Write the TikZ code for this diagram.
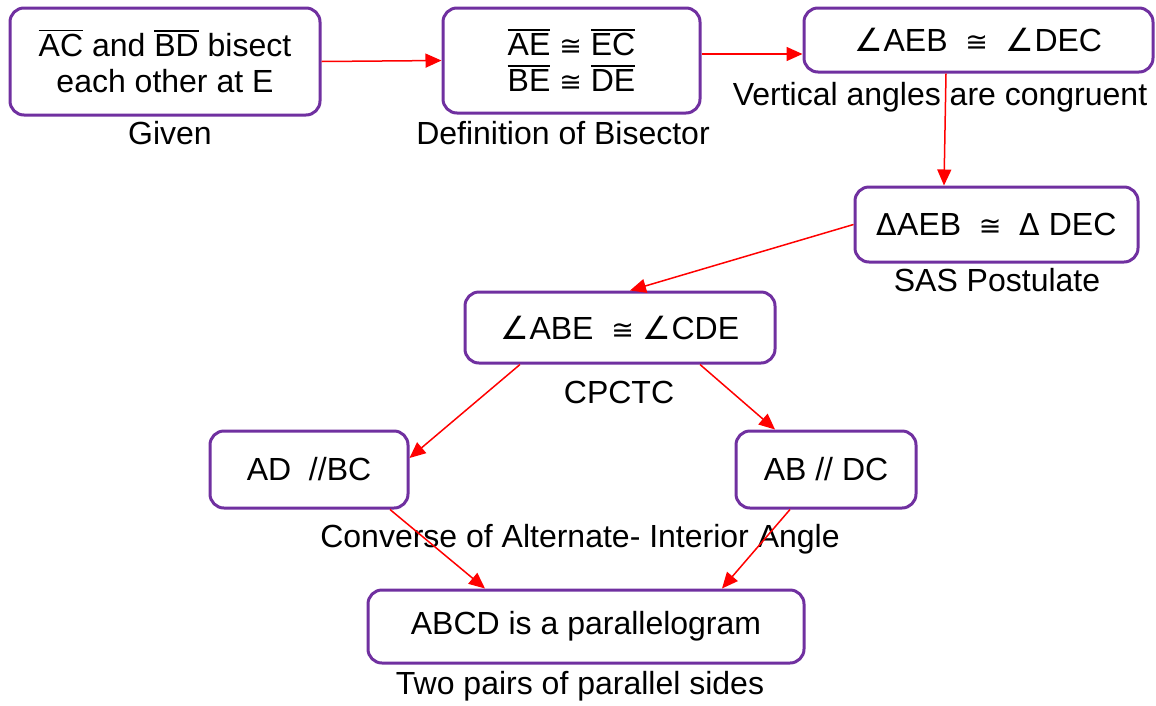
\documentclass[tikz,border=0pt]{standalone}
\usepackage{fontspec}
\setmainfont{Liberation Sans}
\newfontfamily\dejavu{DejaVu Sans}
\usetikzlibrary{arrows.meta}
\definecolor{boxpurple}{HTML}{7030A0}
\definecolor{arrowred}{HTML}{FF0000}
\newcommand{\seg}[1]{\leavevmode\vbox{\hrule height 1.5pt\kern 3pt\hbox{#1}}}
\newcommand{\cgr}{{\dejavu\fontsize{27}{27}\selectfont ≅}}
\newcommand{\angl}{{\dejavu\fontsize{32}{32}\selectfont ∠}}
\newcommand{\trig}{{\dejavu\fontsize{30}{30}\selectfont Δ}}
\tikzset{
    proofbox/.style={draw=boxpurple,fill=white,line width=3pt,rounded corners=14pt,
      inner sep=0pt,align=center},
    reason/.style={inner sep=0pt,align=center},
    proofarrow/.style={-{Triangle[length=16pt,width=14pt]},draw=arrowred,
      line width=1.5pt}
}

\begin{document}
\begin{tikzpicture}[x=1pt,y=-1pt,font=\fontsize{32}{36}\selectfont]
  \useasboundingbox (0,0) rectangle (1156,705);
  % statements
  \node[proofbox,minimum width=310pt,minimum height=107pt] (given) at (165,61.5)
    {\seg{AC} and \seg{BD} bisect\\each other at E};
  \node[proofbox,minimum width=257pt,minimum height=105pt] (bisect) at (571.5,60.5)
    {\seg{AE} \cgr\ \seg{EC}\\\seg{BE} \cgr\ \seg{DE}};
  \node[proofbox,minimum width=349pt,minimum height=64pt] (vert) at (978.5,40)
    {\angl AEB \ \cgr\ \ \angl DEC};
  \node[proofbox,minimum width=283pt,minimum height=75pt] (sas) at (996.5,224.5)
    {\trig AEB \ \cgr\ \ \trig\ DEC};
  \node[proofbox,minimum width=310pt,minimum height=71pt] (cpctc) at (620,327.5)
    {\angl ABE \ \cgr\ \angl CDE};
  \node[proofbox,minimum width=198pt,minimum height=77pt] (adbc) at (309,469.5)
    {AD\ \ //BC};
  \node[proofbox,minimum width=180pt,minimum height=77pt] (abdc) at (826,469.5)
    {AB // DC};
  \node[proofbox,minimum width=436pt,minimum height=73pt] (abcd) at (586,626.5)
    {ABCD is a parallelogram};
  % reasons
  \node[reason] (givenlbl) at (170,133) {Given};
  \node[reason] (bisectlbl) at (563,133) {Definition of Bisector};
  \node[reason] (vertlbl) at (940,97) {Vertical angles are congruent};
  \node[reason] (saslbl) at (997,280) {SAS Postulate};
  \node[reason] (cpctclbl) at (619,392) {CPCTC};
  \node[reason] (altlbl) at (580,539) {Converse of Alternate- Interior Angle};
  \node[reason] (abcdlbl) at (580,686) {Two pairs of parallel sides};
  % arrows
  \draw[proofarrow] (given.east) -- (bisect.west);
  \draw[proofarrow] ([yshift=6.5pt]bisect.east) -- ([yshift=-14pt]vert.west);
  \draw[proofarrow] ([xshift=-32.5pt]vert.south) -- ([xshift=-52.5pt]sas.north);
  \draw[proofarrow] (sas.west) -- ([xshift=10pt]cpctc.north);
  \draw[proofarrow] ([xshift=-100pt]cpctc.south) -- ([yshift=11.5pt]adbc.east);
  \draw[proofarrow] ([xshift=80pt]cpctc.south) -- ([xshift=-51pt]abdc.north);
  \draw[proofarrow] ([xshift=81pt]adbc.south) -- ([xshift=-101pt]abcd.north);
  \draw[proofarrow] ([xshift=-36pt]abdc.south) -- ([xshift=136pt]abcd.north);
\end{tikzpicture}
\end{document}
